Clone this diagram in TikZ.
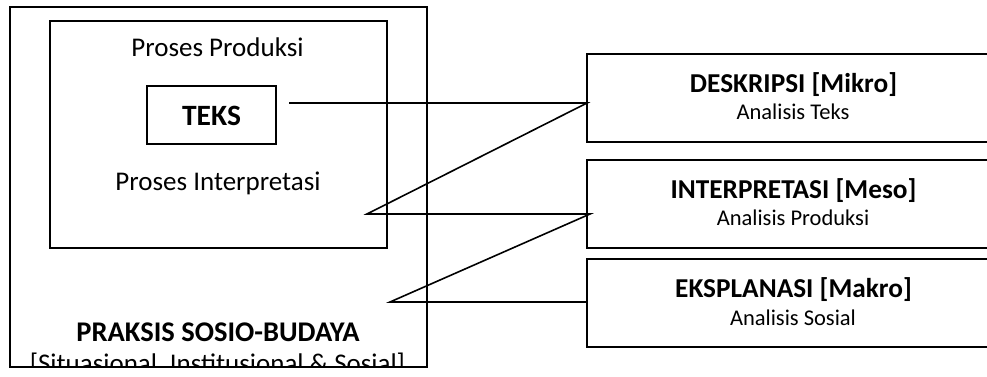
\documentclass[tikz,border=0pt]{standalone}
\usepackage{fontspec}
\setmainfont{Carlito}
\begin{document}
\begin{tikzpicture}[x=1pt,y=-1pt,
  box/.style={draw,line width=1.8pt,inner sep=0pt,outer sep=0pt},
  conn/.style={line width=1.6pt,line join=miter},
  reg/.style={anchor=base,inner sep=0pt,font=\fontsize{27}{30}\selectfont},
  small/.style={anchor=base,inner sep=0pt,font=\fontsize{22.5}{26}\selectfont},
  bigb/.style={anchor=base,inner sep=0pt,font=\fontsize{28.5}{32}\selectfont\bfseries},
  headb/.style={anchor=base,inner sep=0pt,font=\fontsize{27.3}{30}\selectfont\bfseries}]
\path[use as bounding box] (0,0) rectangle (987,377);
\clip (0,0) rectangle (987,377);
% left boxes
\node[box,minimum width=417pt,minimum height=360pt] (outer) at (218.5,187) {};
\node[box,minimum width=337pt,minimum height=227pt] (inner) at (218.5,134.5) {};
\node[box,minimum width=129pt,minimum height=58pt] (teks) at (211.5,115) {};
\node[reg] (prod) at (217.5,56.5) {Proses Produksi};
\node[bigb,font=\fontsize{29.5}{32}\selectfont\bfseries] (teksl) at (211.5,125) {TEKS};
\node[reg] (interp) at (218,190.5) {Proses Interpretasi};
\node[bigb] (praksis) at (218,341.7) {PRAKSIS SOSIO-BUDAYA};
\begin{scope}
  \clip (10,7) rectangle (427,366);
  \node[reg] (situ) at (217.5,372.5) {[Situasional, Institusional \& Sosial]};
\end{scope}
% right boxes
\node[box,minimum width=412pt,minimum height=88pt] (desk) at (793,98) {};
\node[box,minimum width=412pt,minimum height=88pt] (intp) at (793,204) {};
\node[box,minimum width=412pt,minimum height=88pt] (eksp) at (793,303) {};
\node[headb] (deskh) at (793.5,92.7) {DESKRIPSI [Mikro]};
\node[small] (deskt) at (793,120) {Analisis Teks};
\node[headb] (intph) at (793.5,198) {INTERPRETASI [Meso]};
\node[small] (intpt) at (793,225.7) {Analisis Produksi};
\node[headb] (ekspH) at (793.5,297) {EKSPLANASI [Makro]};
\node[small] (ekspt) at (793,325) {Analisis Sosial};
% connectors
\coordinate (p1) at (289,103);
\coordinate (p2) at (desk.west |- p1);
\coordinate (p3) at (367,214);
\coordinate (p4) at (590,214);
\coordinate (p5) at (390,302);
\coordinate (p6) at (eksp.west |- p5);
\draw[conn] (p1) -- (p2) -- (p3) -- (p4) -- (p5) -- (p6);
\end{tikzpicture}
\end{document}
